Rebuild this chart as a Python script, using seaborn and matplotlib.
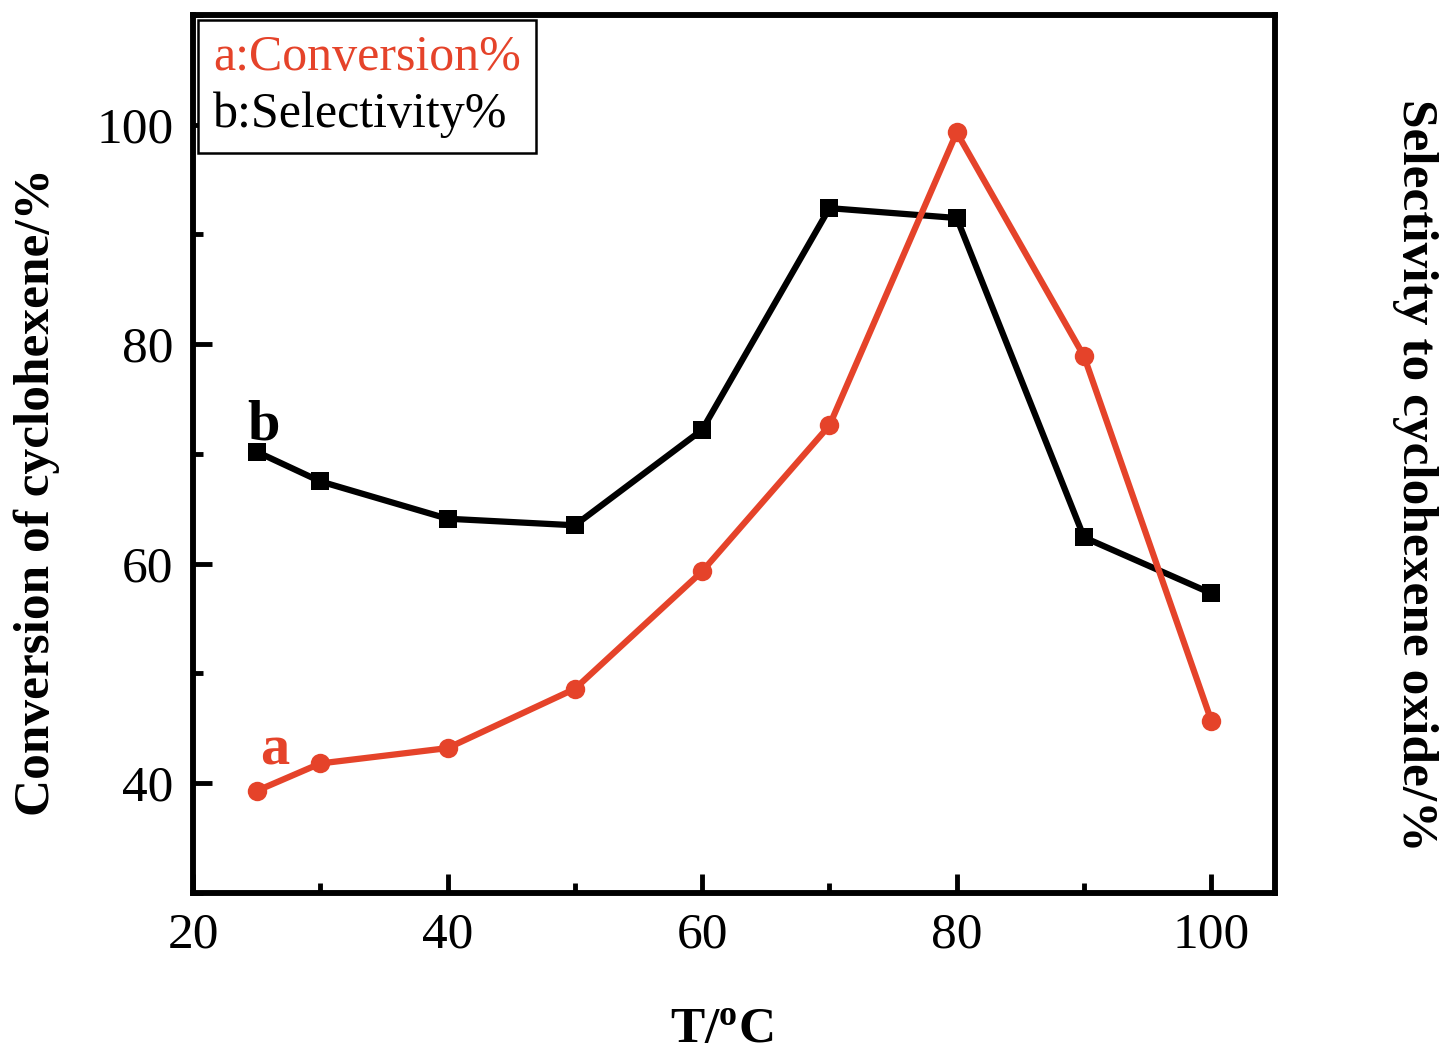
import numpy as np
import pandas as pd
import matplotlib
matplotlib.use("Agg")
import matplotlib.pyplot as plt
import seaborn as sns
from matplotlib.ticker import MultipleLocator

temperature = [25, 30, 40, 50, 60, 70, 80, 90, 100]
conversion = [39.3, 41.8, 43.2, 48.6, 59.3, 72.6, 99.3, 78.9, 45.7]
selectivity = [70.2, 67.5, 64.1, 63.5, 72.2, 92.4, 91.5, 62.4, 57.3]

red = "#E5432A"

sns.set_style("ticks")
plt.rcParams["font.family"] = ["Liberation Serif", "DejaVu Serif"]
plt.rcParams["mathtext.fontset"] = "custom"
plt.rcParams["mathtext.rm"] = "Liberation Serif"
plt.rcParams["mathtext.bf"] = "Liberation Serif:bold"
for k in ["text.color", "axes.labelcolor", "xtick.color", "ytick.color", "axes.edgecolor"]:
    plt.rcParams[k] = "black"

df = pd.DataFrame({"T": temperature, "conv": conversion, "sel": selectivity})

fig = plt.figure(figsize=(14.47, 10.55), dpi=100)
ax = fig.add_axes([0.1334, 0.1536, 0.8811 - 0.1334, 0.9858 - 0.1536])

sns.lineplot(data=df, x="T", y="sel", ax=ax, color="black", lw=4.5,
             marker="s", markersize=13, markeredgewidth=0, label="b:Selectivity%")
sns.lineplot(data=df, x="T", y="conv", ax=ax, color=red, lw=4.5,
             marker="o", markersize=14, markeredgewidth=0, label="a:Conversion%")

ax.set_xlim(20, 105)
ax.set_ylim(30, 110)
ax.set_xticks([20, 40, 60, 80, 100])
ax.set_yticks([40, 60, 80, 100])
ax.xaxis.set_minor_locator(MultipleLocator(10))
ax.yaxis.set_minor_locator(MultipleLocator(10))
ax.tick_params(which="major", direction="in", length=14, width=3.5, labelsize=37, pad=14,
               top=False, right=False, colors="black")
ax.tick_params(which="minor", direction="in", length=7, width=3.5, top=False, right=False,
               colors="black")
for s in ax.spines.values():
    s.set_linewidth(4)
    s.set_color("black")

ax.set_xlabel(r"T/$\mathbf{^o}$C", fontsize=37, fontweight="bold", color="black")
ax.xaxis.set_label_coords(0.489, -0.131)
ax.set_ylabel("Conversion of cyclohexene/%", fontsize=37, fontweight="bold", color="black")
ax.yaxis.set_label_coords(-0.123, 0.457)

ax2 = ax.twinx()
ax2.set_ylim(30, 110)
ax2.set_yticks([])
ax2.set_ylabel("Selectivity to cyclohexene oxide/%", fontsize=37, fontweight="bold",
               rotation=270, color="black", va="bottom")
ax2.yaxis.set_label_coords(1.108, 0.476)
for s in ax2.spines.values():
    s.set_linewidth(4)
    s.set_color("black")

ax.text(25.5, 71.3, "b", fontsize=42, fontweight="bold", color="black", ha="center", va="baseline")
ax.text(26.4, 41.7, "a", fontsize=42, fontweight="bold", color=red, ha="center", va="baseline")

h, l = ax.get_legend_handles_labels()
leg = ax.legend([h[1], h[0]], [l[1], l[0]], loc="upper left", fontsize=36,
                handlelength=0, handletextpad=0, labelcolor=[red, "black"],
                frameon=True, fancybox=False, edgecolor="black", framealpha=1,
                borderaxespad=0.1, borderpad=0.3, labelspacing=0.2)
for hd in leg.legend_handles:
    hd.set_visible(False)
leg.get_frame().set_linewidth(1.8)

fig.savefig("out.png", dpi=100)
